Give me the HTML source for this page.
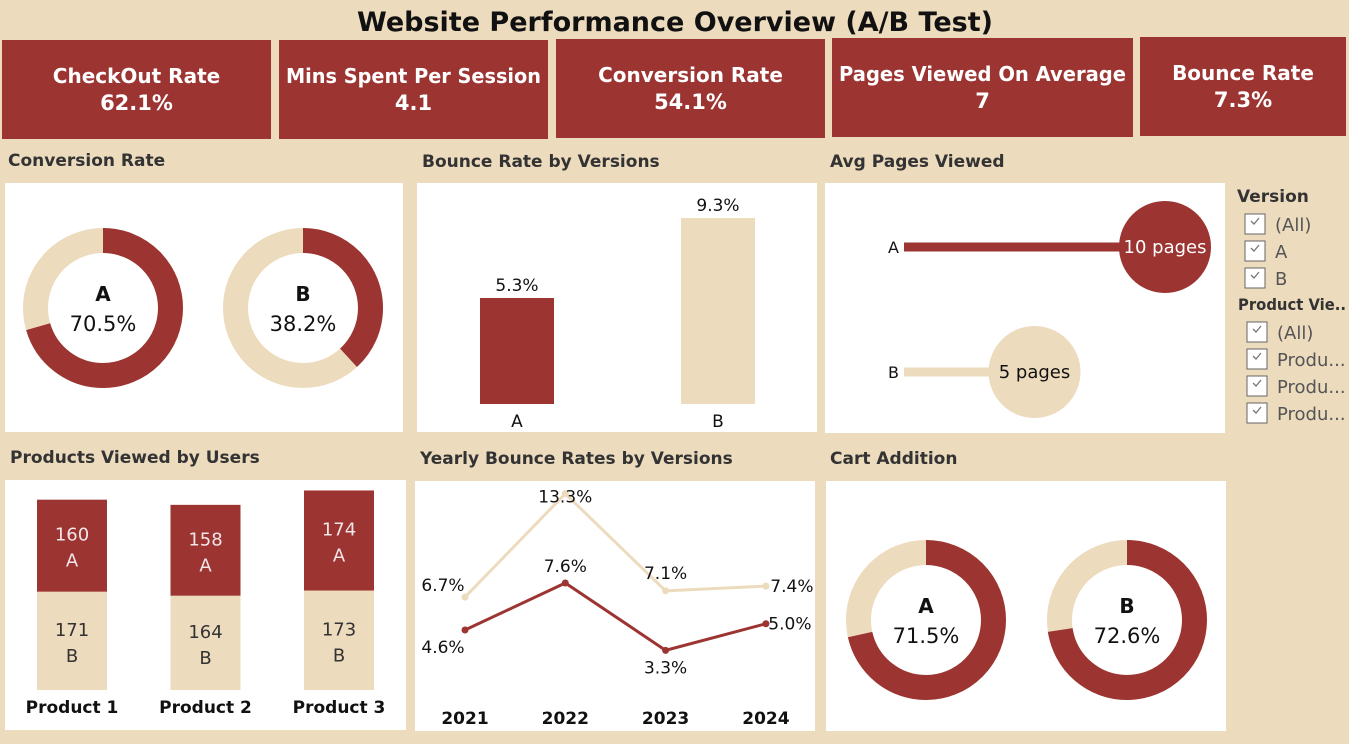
<!DOCTYPE html>
<html><head><meta charset="utf-8"><style>
html,body{margin:0;padding:0;background:#eddbbe;}
svg{display:block;font-family:"DejaVu Sans","Liberation Sans",sans-serif;}
</style></head><body>
<svg id="dash" width="1349" height="744" viewBox="0 0 1349 744">
<rect width="1349" height="744" fill="#eddbbe"/>
<text x="675" y="31" text-anchor="middle" font-size="27" font-weight="bold" fill="#111">Website Performance Overview (A/B Test)</text>
<g id="kpis"></g>
<g id="titles" font-size="17" font-weight="bold" fill="#333">
<text x="8" y="166">Conversion Rate</text>
<text x="422" y="167">Bounce Rate by Versions</text>
<text x="830" y="167">Avg Pages Viewed</text>
<text x="10" y="463">Products Viewed by Users</text>
<text x="420" y="464">Yearly Bounce Rates by Versions</text>
<text x="830" y="464">Cart Addition</text>
</g>
<rect x="5" y="183" width="398" height="249" fill="#fff"/>
<rect x="417" y="183" width="400" height="249" fill="#fff"/>
<rect x="825" y="183" width="400" height="250" fill="#fff"/>
<rect x="5" y="480" width="401" height="250" fill="#fff"/>
<rect x="415" y="481" width="400" height="250" fill="#fff"/>
<rect x="826" y="481" width="400" height="250" fill="#fff"/>
<g id="charts"></g>
<g id="filters" font-size="17" fill="#333">
<text x="1237" y="202" font-weight="bold">Version</text>
<text x="1238" y="310" font-weight="bold" font-size="16" textLength="108" lengthAdjust="spacingAndGlyphs">Product Vie..</text>
</g>
</svg>
<script>
const RED="#9c3432", BEIGE="#eddbbe";
const kpiLabels=["CheckOut Rate","Mins Spent Per Session","Conversion Rate","Pages Viewed On Average","Bounce Rate"];
const kpiValues=["62.1%","4.1","54.1%","7","7.3%"];
const kpiBoxes=[[2,40,269,99],[279,40,269,99],[556,39,269,99],[832,38,301,99],[1140,37,206,99]];
const convVersions=["A","B"];
const convValues=[70.5,38.2];
const cartValues=[71.5,72.6];
const bounceValues=[5.3,9.3];
const pagesValues=[10,5];
const products=["Product 1","Product 2","Product 3"];
const prodA=[160,158,174];
const prodB=[171,164,173];
const years=["2021","2022","2023","2024"];
const yearA=[4.6,7.6,3.3,5.0];
const yearB=[6.7,13.3,7.1,7.4];
const NS="http://www.w3.org/2000/svg";
function el(tag,attrs,parent,txt){const e=document.createElementNS(NS,tag);for(const k in attrs)e.setAttribute(k,attrs[k]);if(txt!==undefined)e.textContent=txt;parent.appendChild(e);return e;}
const kp=document.getElementById('kpis');
kpiLabels.forEach((l,i)=>{const b=kpiBoxes[i];
 const r=el('rect',{x:b[0],y:b[1],width:b[2],height:b[3],fill:RED},kp);
 
 
 const cx=b[0]+b[2]/2;
 const t=el('text',{x:cx,y:b[1]+43,'text-anchor':'middle','font-size':20,'font-weight':'bold',fill:'#fff'},kp,l);
 if(l.length>20){t.setAttribute('textLength',b[2]-14);t.setAttribute('lengthAdjust','spacingAndGlyphs');}
 
 
 const v=el('text',{x:cx,y:b[1]+70,'text-anchor':'middle','font-size':21,'font-weight':'bold',fill:'#fff'},kp,kpiValues[i]);
 
 
});
const ch=document.getElementById('charts');
function donut(cx,cy,pct,label,name){
 const R=67.5,w=25;
 const bg=el('circle',{cx,cy,r:R,fill:'none',stroke:BEIGE,'stroke-width':w},ch);
 
 
 const C=2*Math.PI*R;
 const arc=el('circle',{cx,cy,r:R,fill:'none',stroke:RED,'stroke-width':w,'stroke-dasharray':(C*pct/100)+' '+C,transform:`rotate(-90 ${cx} ${cy})`},ch);
 
 
 const t1=el('text',{x:cx,y:cy-7,'text-anchor':'middle','font-size':20,'font-weight':'bold',fill:'#111'},ch,label);
 
 
 const t2=el('text',{x:cx,y:cy+23,'text-anchor':'middle','font-size':21,fill:'#111'},ch,pct.toFixed(1)+'%');
 
 
}
convValues.forEach((v,i)=>donut(103+i*200,308,v,convVersions[i],'conversion-donut-'+convVersions[i].toLowerCase()));
cartValues.forEach((v,i)=>donut(926+i*201,620,v,convVersions[i],'cart-donut-'+convVersions[i].toLowerCase()));
const bY=v=>404-v*20;
bounceValues.forEach((v,i)=>{const x=480+i*201;
 const r=el('rect',{x,y:bY(v),width:74,height:404-bY(v),fill:i?BEIGE:RED},ch);
 
 
 const t=el('text',{x:x+37,y:bY(v)-7,'text-anchor':'middle','font-size':17,fill:'#111'},ch,v.toFixed(1)+'%');
 
 
 const c=el('text',{x:x+37,y:427,'text-anchor':'middle','font-size':17,fill:'#111'},ch,convVersions[i]);
 
 
});
const pX=v=>904+v*26.1;
pagesValues.forEach((v,i)=>{const y=247+i*125;
 const l=el('line',{x1:904,y1:y,x2:pX(v),y2:y,stroke:i?BEIGE:RED,'stroke-width':9},ch);
 
 
 const c=el('circle',{cx:pX(v),cy:y,r:46,fill:i?BEIGE:RED},ch);
 
 
 const t=el('text',{x:pX(v),y:y+6,'text-anchor':'middle','font-size':18,fill:i?'#111':'#fff'},ch,v+' pages');
 
 
 const a=el('text',{x:888,y:y+6,'font-size':16,fill:'#111'},ch,convVersions[i]);
 
 
});
const sc=0.575, base=690;
products.forEach((p,i)=>{const x=37+i*133.5;
 const hB=prodB[i]*sc, hA=prodA[i]*sc;
 const rb=el('rect',{x,y:base-hB,width:70,height:hB,fill:BEIGE},ch);
 
 
 const ra=el('rect',{x,y:base-hB-hA,width:70,height:hA,fill:RED},ch);
 
 
 const mA=base-hB-hA/2, mB=base-hB/2;
 [[prodA[i],mA-5,'#f2e6ea'],['A',mA+21,'#f2e6ea'],[prodB[i],mB-5,'#333'],['B',mB+21,'#333']].forEach(d=>{
  const t=el('text',{x:x+35,y:d[1],'text-anchor':'middle','font-size':18,fill:d[2]},ch,String(d[0]));
  
  
 });
 const pl=el('text',{x:x+35,y:713,'text-anchor':'middle','font-size':17,'font-weight':'bold',fill:'#111'},ch,p);
 
 
});
const yX=i=>465+i*100.3, yY=v=>630-(v-4.6)*15.67;
[[yearB,BEIGE,'b'],[yearA,RED,'a']].forEach(([arr,col,n])=>{
 const pl=el('polyline',{points:arr.map((v,i)=>yX(i)+','+yY(v)).join(' '),fill:'none',stroke:col,'stroke-width':3},ch);
 
 
 arr.forEach((v,i)=>{const c=el('circle',{cx:yX(i),cy:yY(v),r:3.5,fill:col},ch);
  
  
 });
});
const labOff={a:[[-22,23],[0,-11],[0,23],[24,6]],b:[[-22,-6],[0,9],[0,-12],[26,6]]};
yearA.forEach((v,i)=>{const o=labOff.a[i];
 const t=el('text',{x:yX(i)+o[0],y:yY(v)+o[1],'text-anchor':'middle','font-size':17,fill:'#111'},ch,v.toFixed(1)+'%');
 
 
});
yearB.forEach((v,i)=>{const o=labOff.b[i];
 const t=el('text',{x:yX(i)+o[0],y:yY(v)+o[1],'text-anchor':'middle','font-size':17,fill:'#111'},ch,v.toFixed(1)+'%');
 
 
});
years.forEach((y,i)=>{const t=el('text',{x:yX(i),y:724,'text-anchor':'middle','font-size':17,'font-weight':'bold',fill:'#111'},ch,y);
 
 
});
const fp=document.getElementById('filters');
const fItems=[["(All)",224],["A",251],["B",278],["(All)",332],["Produ...",359],["Produ...",386],["Produ...",413]];
fItems.forEach(([l,y],i)=>{const x=i<3?1245:1247;
 const b=el('rect',{x,y:y-10,width:20,height:20,fill:'#fff',stroke:'#666','stroke-width':1},fp);
 
 
 const c=el('path',{d:`M${x+6} ${y-3} l3 3 l5 -6`,fill:'none',stroke:'#777','stroke-width':1.3},fp);
 
 
 const t=el('text',{x:x+30,y:y+7,'font-size':18,fill:'#555'},fp,l);
 
 
});
</script>
</body></html>
